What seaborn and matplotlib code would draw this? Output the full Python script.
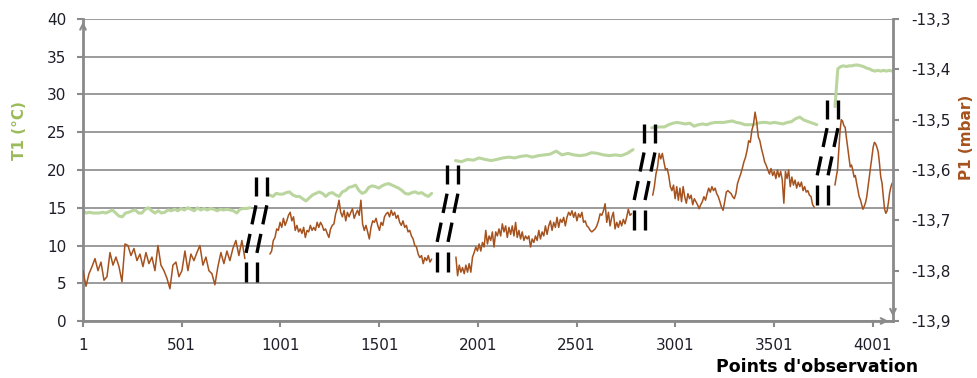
import numpy as np
import pandas as pd
import matplotlib
matplotlib.use("Agg")
import matplotlib.pyplot as plt
import seaborn as sns

# T1 (°C) readings, one list per recording session
t1_seg1 = [14.6, 14.3, 14.4, 14.3, 14.3, 14.3, 14.4, 14.3, 14.5, 14.7, 14.3, 13.9, 13.8, 14.3, 14.4,
           14.6, 14.7, 14.3, 14.3, 14.8, 15.0, 14.6, 14.3, 14.6, 14.3, 14.4, 14.7, 14.6, 14.8, 14.6,
           14.9, 14.7, 15.0, 14.8, 14.6, 15.0, 14.7, 14.9, 14.7, 14.9, 14.8, 14.6, 14.8, 14.7, 14.8,
           14.7, 14.6, 14.3, 14.8, 14.9, 14.9, 15.0]
t1_seg2 = [16.7, 16.5, 16.9, 16.8, 16.8, 17.0, 17.1, 16.7, 16.5, 16.5, 16.2, 15.9, 16.3, 16.7, 16.9,
           17.1, 16.9, 16.5, 16.9, 17.0, 16.7, 16.5, 17.1, 17.3, 17.7, 17.8, 18.0, 17.3, 16.9, 17.1,
           17.7, 17.9, 17.8, 17.6, 17.9, 18.1, 18.2, 18.0, 17.8, 17.6, 17.3, 16.9, 16.8, 17.0, 17.1,
           16.9, 17.0, 16.7, 16.5, 16.9]
t1_seg3 = [21.25, 21.1, 21.4, 21.3, 21.6, 21.4, 21.25, 21.4, 21.6, 21.7, 21.6, 21.8, 21.9, 21.7, 21.9,
           22.0, 22.1, 22.5, 22.0, 22.2, 22.0, 21.9, 22.0, 22.3, 22.2, 22.0, 21.9, 22.0, 21.9, 22.2, 22.7]
t1_seg4 = [25.6, 25.7, 25.7, 25.7, 26.0, 26.2, 26.3, 26.2, 26.1, 26.2, 25.8, 26.0, 26.1, 26.0, 26.2,
           26.3, 26.3, 26.3, 26.4, 26.5, 26.3, 26.2, 26.0, 26.0, 26.0, 26.2, 26.3, 26.3, 26.2, 26.3,
           26.2, 26.1, 26.3, 26.4, 26.8, 27.0, 26.6, 26.4, 26.2, 26.0]
t1_seg5 = [28.4, 33.4, 33.7, 33.8, 33.7, 33.8, 33.8, 33.9, 33.9, 33.8, 33.7, 33.5, 33.4, 33.2, 33.1,
           33.2, 33.1, 33.2, 33.1, 33.2, 33.1]
t1_ranges = [(1, 846), (946, 1767), (1888, 2787), (2882, 3718), (3810, 4100)]

# P1 (mbar) readings
p1_seg1 = [-13.800, -13.831, -13.806, -13.792, -13.776, -13.800, -13.783, -13.819, -13.812, -13.764,
           -13.789, -13.773, -13.792, -13.822, -13.747, -13.750, -13.770, -13.756, -13.780, -13.767,
           -13.792, -13.764, -13.786, -13.773, -13.800, -13.750, -13.789, -13.800, -13.815, -13.836,
           -13.789, -13.783, -13.812, -13.800, -13.761, -13.800, -13.767, -13.780, -13.764, -13.750,
           -13.789, -13.773, -13.800, -13.806, -13.828, -13.792, -13.764, -13.786, -13.761, -13.780,
           -13.756, -13.740, -13.770, -13.740, -13.776]
p1_seg2 = [-13.767, -13.761, -13.740, -13.734, -13.717, -13.720, -13.704, -13.714, -13.696, -13.710,
           -13.701, -13.690, -13.684, -13.701, -13.693, -13.720, -13.710, -13.723, -13.717, -13.726,
           -13.714, -13.734, -13.720, -13.723, -13.710, -13.720, -13.714, -13.720, -13.704, -13.714,
           -13.704, -13.710, -13.720, -13.717, -13.726, -13.734, -13.717, -13.710, -13.707, -13.687,
           -13.677, -13.660, -13.684, -13.693, -13.680, -13.701, -13.684, -13.693, -13.684, -13.677,
           -13.696, -13.687, -13.680, -13.690, -13.660, -13.707, -13.720, -13.710, -13.723, -13.737,
           -13.714, -13.701, -13.704, -13.696, -13.710, -13.720, -13.704, -13.710, -13.693, -13.687,
           -13.684, -13.693, -13.680, -13.690, -13.684, -13.696, -13.690, -13.704, -13.710, -13.701,
           -13.714, -13.710, -13.723, -13.720, -13.731, -13.737, -13.750, -13.753, -13.767, -13.774,
           -13.770, -13.786, -13.774, -13.780, -13.770, -13.783, -13.777]
p1_seg3 = [-13.773, -13.810, -13.789, -13.803, -13.794, -13.806, -13.789, -13.803, -13.786, -13.803,
           -13.773, -13.764, -13.753, -13.761, -13.747, -13.761, -13.744, -13.753, -13.720, -13.747,
           -13.731, -13.740, -13.723, -13.753, -13.723, -13.731, -13.717, -13.731, -13.707, -13.723,
           -13.711, -13.734, -13.714, -13.728, -13.711, -13.731, -13.704, -13.734, -13.720, -13.737,
           -13.723, -13.740, -13.731, -13.737, -13.731, -13.753, -13.737, -13.744, -13.731, -13.740,
           -13.720, -13.737, -13.723, -13.731, -13.711, -13.728, -13.711, -13.701, -13.720, -13.704,
           -13.714, -13.694, -13.714, -13.698, -13.704, -13.694, -13.711, -13.694, -13.684, -13.690,
           -13.681, -13.694, -13.684, -13.701, -13.687, -13.694, -13.684, -13.704, -13.701, -13.711,
           -13.714, -13.720, -13.723, -13.720, -13.717, -13.711, -13.701, -13.687, -13.690, -13.681,
           -13.667, -13.704, -13.684, -13.711, -13.694, -13.684, -13.717, -13.704, -13.714, -13.701,
           -13.711, -13.698, -13.707, -13.694, -13.678, -13.690, -13.687]
p1_seg4 = [-13.650, -13.633, -13.608, -13.594, -13.567, -13.578, -13.567, -13.584, -13.600, -13.597,
           -13.611, -13.633, -13.641, -13.630, -13.657, -13.633, -13.660, -13.636, -13.663, -13.633,
           -13.653, -13.666, -13.647, -13.657, -13.650, -13.669, -13.657, -13.663, -13.669, -13.677,
           -13.669, -13.663, -13.653, -13.660, -13.647, -13.636, -13.644, -13.633, -13.641, -13.636,
           -13.647, -13.653, -13.663, -13.674, -13.680, -13.663, -13.644, -13.641, -13.644, -13.647,
           -13.653, -13.657, -13.647, -13.627, -13.617, -13.608, -13.597, -13.584, -13.575, -13.561,
           -13.542, -13.545, -13.521, -13.509, -13.485, -13.504, -13.534, -13.542, -13.558, -13.570,
           -13.584, -13.591, -13.600, -13.608, -13.597, -13.611, -13.603, -13.617, -13.600, -13.614,
           -13.603, -13.620, -13.666, -13.603, -13.617, -13.600, -13.633, -13.614, -13.630, -13.620,
           -13.636, -13.624, -13.633, -13.624, -13.641, -13.633, -13.644, -13.641, -13.650, -13.653,
           -13.669, -13.674]
p1_seg5 = [-13.630, -13.614, -13.600, -13.561, -13.522, -13.500, -13.503, -13.512, -13.515, -13.536,
           -13.555, -13.575, -13.594, -13.590, -13.600, -13.614, -13.611, -13.626, -13.639, -13.653,
           -13.659, -13.669, -13.678, -13.672, -13.665, -13.653, -13.633, -13.614, -13.594, -13.575,
           -13.555, -13.545, -13.548, -13.555, -13.564, -13.587, -13.614, -13.626, -13.653, -13.678,
           -13.686, -13.681, -13.665, -13.645, -13.633, -13.626]
p1_ranges = [(1, 821), (948, 1767), (1890, 2780), (2887, 3705), (3810, 4100)]

# break marks between sessions: x of top end (obs. index), top / bottom in °C units
break_x = [877, 1845, 2843, 3770]
break_top = [19.1, 20.7, 26.1, 29.3]
break_bottom = [5.1, 6.5, 12.1, 15.4]

x_ticks = [1, 501, 1001, 1501, 2001, 2501, 3001, 3501, 4001]
t1_ticks = [0, 5, 10, 15, 20, 25, 30, 35, 40]
p1_ticks = [-13.9, -13.8, -13.7, -13.6, -13.5, -13.4, -13.3]

GREEN = "#bad69e"
GREEN_TXT = "#9bbb59"
BROWN = "#a5521e"
AXIS = "#8a8a8a"
TXT = "#1e1e2a"

sns.set_theme(style="white")
plt.rcParams["font.family"] = ["DejaVu Sans"]

fig = plt.figure(figsize=(9.78, 3.78), dpi=100)
ax = fig.add_axes([83 / 978, 1 - 321 / 378, 810 / 978, 302 / 378])
ax2 = ax.twinx()

for vals, (a, b) in zip([t1_seg1, t1_seg2, t1_seg3, t1_seg4, t1_seg5], t1_ranges):
    d = pd.DataFrame({"obs": np.linspace(a, b, len(vals)), "T1": vals})
    sns.lineplot(data=d, x="obs", y="T1", ax=ax, color=GREEN, linewidth=2.2,
                 estimator=None, sort=False)

for vals, (a, b) in zip([p1_seg1, p1_seg2, p1_seg3, p1_seg4, p1_seg5], p1_ranges):
    d = pd.DataFrame({"obs": np.linspace(a, b, len(vals)), "P1": vals})
    sns.lineplot(data=d, x="obs", y="P1", ax=ax2, color=BROWN, linewidth=1.1,
                 estimator=None, sort=False)

# hand-drawn style break marks (two dashed strokes, slanted in the middle)
slant, gap = 50, 55
dashes = [(0.0, 0.18), (0.27, 0.45), (0.54, 0.72), (0.81, 1.0)]
for bx, top, bot in zip(break_x, break_top, break_bottom):
    for off in (0, gap):
        for f0, f1 in dashes:
            xs = [bx + off - slant * np.clip((f - 0.27) / 0.45, 0, 1) for f in (f0, f1)]
            ys = [top - (top - bot) * f for f in (f0, f1)]
            ax2.plot(xs, ys, color="black", lw=2.4, solid_capstyle="butt",
                     transform=ax.transData, zorder=5)

ax.set_xlim(1, 4104)
ax.set_ylim(0, 40)
ax2.set_ylim(-13.9, -13.3)
ax.set_xticks(x_ticks)
ax.set_yticks(t1_ticks)
ax2.set_yticks(p1_ticks)
ax2.set_yticklabels([f"{v:.1f}".replace(".", ",") for v in p1_ticks])
ax.set_xlabel("")
ax.set_ylabel("")
ax2.set_ylabel("")

ax.yaxis.grid(True, color=AXIS, lw=1.2)
ax.xaxis.grid(False)
ax2.grid(False)
ax.set_axisbelow(True)

for s in ["top", "right"]:
    ax.spines[s].set_visible(False)
for s in ["top", "left", "bottom"]:
    ax2.spines[s].set_visible(False)
for sp in [ax.spines["left"], ax.spines["bottom"], ax2.spines["right"]]:
    sp.set_color(AXIS)
    sp.set_linewidth(2)

ax.tick_params(axis="y", length=4, width=1.5, color=AXIS, pad=8, labelsize=11, labelcolor=TXT, left=True)
ax.tick_params(axis="x", length=4, width=1.5, color=AXIS, pad=8, labelsize=11, labelcolor=TXT, bottom=True)
ax2.tick_params(axis="y", length=4, width=1.5, color=AXIS, pad=9, labelsize=11, labelcolor=TXT, right=True)

# arrow heads at the ends of the axes
arr = dict(arrowstyle="->", color=AXIS, lw=1.5, mutation_scale=10)
ax.annotate("", xy=(0, 1.0), xytext=(0, 0.97), xycoords="axes fraction", arrowprops=arr)
ax.annotate("", xy=(0.998, 0), xytext=(0.97, 0), xycoords="axes fraction", arrowprops=arr)
ax.annotate("", xy=(1, 0.005), xytext=(1, 0.04), xycoords="axes fraction", arrowprops=arr)

ax.text(-0.078, 0.632, "T1 (°C)", transform=ax.transAxes, rotation=90, ha="center", va="center",
        color=GREEN_TXT, fontsize=11, fontweight="bold")
ax.text(1.091, 0.609, "P1 (mbar)", transform=ax.transAxes, rotation=90, ha="center", va="center",
        color=BROWN, fontsize=11, fontweight="bold")
ax.text(0.906, -0.152, "Points d'observation", transform=ax.transAxes, ha="center", va="center",
        color="black", fontsize=12.5, fontweight="bold")

fig.savefig("out.png", dpi=100)
